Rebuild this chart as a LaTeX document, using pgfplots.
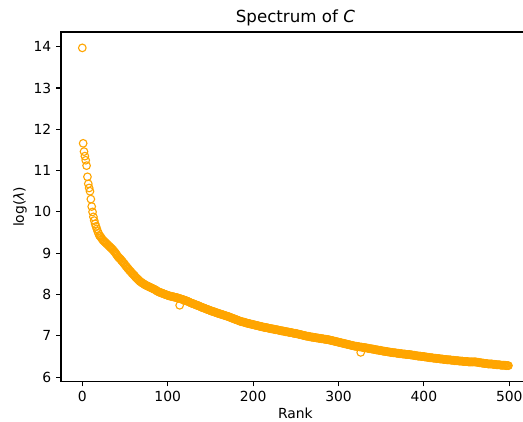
\documentclass[border=0pt]{standalone}
\usepackage{pgfplots}
\pgfplotsset{compat=1.18}
\usepackage{fontspec}
\setmainfont{DejaVu Sans}
\definecolor{mplorange}{RGB}{255,165,0}

\begin{document}
\begin{tikzpicture}
\begin{axis}[
  scale only axis,
  width=337.5pt, height=251.64pt,
  xmin=-24.95, xmax=523.95,
  ymin=5.8955, ymax=14.3545,
  xtick={0,100,200,300,400,500},
  ytick={6,7,8,9,10,11,12,13,14},
  tick pos=left, tick align=outside,
  major tick length=3.5pt,
  axis line style={line width=0.8pt},
  every tick/.style={black, line width=0.8pt},
  /pgf/number format/assume math mode=true,
  tick label style={font=\fontsize{10}{12}\selectfont},
  label style={font=\fontsize{10}{12}\selectfont},
  title style={font=\fontsize{12}{14}\selectfont, yshift=-5pt},
  xlabel style={yshift=2.5pt},
  ylabel style={yshift=-2pt},
  title={Spectrum of \textit{C}},
  xlabel={Rank},
  ylabel={log(\textit{λ})},
]
\addplot[only marks, mark=o, color=mplorange, mark size=2.75pt, mark options={line width=0.8pt}] coordinates {
(0,13.97)(1,11.66)(2,11.46)(3,11.35)(4,11.25)(5,11.12)(6,10.85)(7,10.68)(8,10.58)(9,10.50)
(10,10.31)(11,10.13)(12,10.00)(13,9.88)(14,9.79)(15,9.71)(16,9.65)(17,9.59)(18,9.53)(19,9.48)
(20,9.43)(21,9.41)(22,9.38)(23,9.35)(24,9.32)(25,9.30)(26,9.28)(27,9.26)(28,9.24)(29,9.22)
(30,9.20)(31,9.18)(32,9.16)(33,9.14)(34,9.12)(35,9.10)(36,9.08)(37,9.05)(38,9.03)(39,9.00)
(40,8.97)(41,8.94)(42,8.91)(43,8.89)(44,8.87)(45,8.85)(46,8.82)(47,8.80)(48,8.77)(49,8.75)
(50,8.72)(51,8.69)(52,8.67)(53,8.64)(54,8.62)(55,8.59)(56,8.57)(57,8.55)(58,8.52)(59,8.50)
(60,8.48)(61,8.46)(62,8.43)(63,8.41)(64,8.39)(65,8.37)(66,8.35)(67,8.33)(68,8.31)(69,8.30)
(70,8.28)(71,8.27)(72,8.26)(73,8.24)(74,8.23)(75,8.22)(76,8.21)(77,8.20)(78,8.19)(79,8.18)
(80,8.17)(81,8.16)(82,8.15)(83,8.14)(84,8.13)(85,8.12)(86,8.11)(87,8.09)(88,8.08)(89,8.07)
(90,8.06)(91,8.05)(92,8.04)(93,8.04)(94,8.03)(95,8.02)(96,8.01)(97,8.00)(98,8.00)(99,7.99)
(100,7.98)(101,7.97)(102,7.97)(103,7.96)(104,7.96)(105,7.95)(106,7.95)(107,7.94)(108,7.94)(109,7.93)
(110,7.93)(111,7.92)(112,7.92)(113,7.91)(114,7.74)(115,7.90)(116,7.89)(117,7.88)(118,7.88)(119,7.87)
(120,7.86)(121,7.85)(122,7.85)(123,7.84)(124,7.83)(125,7.82)(126,7.81)(127,7.80)(128,7.79)(129,7.78)
(130,7.78)(131,7.77)(132,7.76)(133,7.75)(134,7.74)(135,7.74)(136,7.73)(137,7.72)(138,7.71)(139,7.70)
(140,7.69)(141,7.68)(142,7.68)(143,7.67)(144,7.66)(145,7.65)(146,7.64)(147,7.64)(148,7.63)(149,7.62)
(150,7.61)(151,7.60)(152,7.60)(153,7.59)(154,7.58)(155,7.58)(156,7.57)(157,7.56)(158,7.55)(159,7.55)
(160,7.54)(161,7.53)(162,7.53)(163,7.52)(164,7.51)(165,7.51)(166,7.50)(167,7.49)(168,7.49)(169,7.48)
(170,7.47)(171,7.47)(172,7.46)(173,7.45)(174,7.44)(175,7.43)(176,7.43)(177,7.42)(178,7.41)(179,7.40)
(180,7.39)(181,7.39)(182,7.38)(183,7.37)(184,7.36)(185,7.35)(186,7.35)(187,7.34)(188,7.34)(189,7.33)
(190,7.33)(191,7.32)(192,7.31)(193,7.31)(194,7.30)(195,7.30)(196,7.29)(197,7.29)(198,7.28)(199,7.28)
(200,7.27)(201,7.27)(202,7.26)(203,7.26)(204,7.25)(205,7.25)(206,7.24)(207,7.24)(208,7.23)(209,7.23)
(210,7.22)(211,7.22)(212,7.21)(213,7.21)(214,7.20)(215,7.20)(216,7.20)(217,7.19)(218,7.19)(219,7.18)
(220,7.18)(221,7.17)(222,7.17)(223,7.17)(224,7.16)(225,7.16)(226,7.15)(227,7.15)(228,7.15)(229,7.14)
(230,7.14)(231,7.13)(232,7.13)(233,7.12)(234,7.12)(235,7.12)(236,7.11)(237,7.11)(238,7.10)(239,7.10)
(240,7.10)(241,7.09)(242,7.09)(243,7.08)(244,7.08)(245,7.08)(246,7.07)(247,7.07)(248,7.06)(249,7.06)
(250,7.06)(251,7.05)(252,7.05)(253,7.04)(254,7.04)(255,7.03)(256,7.03)(257,7.02)(258,7.02)(259,7.01)
(260,7.01)(261,7.00)(262,7.00)(263,6.99)(264,6.99)(265,6.99)(266,6.98)(267,6.98)(268,6.97)(269,6.97)
(270,6.97)(271,6.96)(272,6.96)(273,6.96)(274,6.95)(275,6.95)(276,6.95)(277,6.94)(278,6.94)(279,6.94)
(280,6.93)(281,6.93)(282,6.93)(283,6.92)(284,6.92)(285,6.92)(286,6.91)(287,6.91)(288,6.91)(289,6.90)
(290,6.90)(291,6.89)(292,6.89)(293,6.88)(294,6.88)(295,6.87)(296,6.87)(297,6.86)(298,6.86)(299,6.85)
(300,6.85)(301,6.84)(302,6.84)(303,6.83)(304,6.83)(305,6.82)(306,6.82)(307,6.81)(308,6.81)(309,6.80)
(310,6.80)(311,6.79)(312,6.79)(313,6.78)(314,6.78)(315,6.77)(316,6.77)(317,6.76)(318,6.76)(319,6.75)
(320,6.75)(321,6.75)(322,6.74)(323,6.74)(324,6.74)(325,6.73)(326,6.60)(327,6.73)(328,6.72)(329,6.72)
(330,6.72)(331,6.71)(332,6.71)(333,6.71)(334,6.70)(335,6.70)(336,6.69)(337,6.69)(338,6.69)(339,6.68)
(340,6.68)(341,6.68)(342,6.67)(343,6.67)(344,6.66)(345,6.66)(346,6.66)(347,6.65)(348,6.65)(349,6.65)
(350,6.64)(351,6.64)(352,6.63)(353,6.63)(354,6.63)(355,6.62)(356,6.62)(357,6.62)(358,6.61)(359,6.61)
(360,6.61)(361,6.60)(362,6.60)(363,6.60)(364,6.59)(365,6.59)(366,6.59)(367,6.59)(368,6.58)(369,6.58)
(370,6.58)(371,6.57)(372,6.57)(373,6.57)(374,6.57)(375,6.56)(376,6.56)(377,6.56)(378,6.56)(379,6.55)
(380,6.55)(381,6.55)(382,6.55)(383,6.55)(384,6.54)(385,6.54)(386,6.54)(387,6.53)(388,6.53)(389,6.53)
(390,6.52)(391,6.52)(392,6.52)(393,6.51)(394,6.51)(395,6.51)(396,6.51)(397,6.50)(398,6.50)(399,6.50)
(400,6.50)(401,6.49)(402,6.49)(403,6.49)(404,6.48)(405,6.48)(406,6.48)(407,6.47)(408,6.47)(409,6.47)
(410,6.47)(411,6.46)(412,6.46)(413,6.46)(414,6.46)(415,6.45)(416,6.45)(417,6.45)(418,6.45)(419,6.44)
(420,6.44)(421,6.44)(422,6.44)(423,6.43)(424,6.43)(425,6.43)(426,6.43)(427,6.42)(428,6.42)(429,6.42)
(430,6.42)(431,6.42)(432,6.41)(433,6.41)(434,6.41)(435,6.41)(436,6.40)(437,6.40)(438,6.40)(439,6.40)
(440,6.40)(441,6.39)(442,6.39)(443,6.39)(444,6.39)(445,6.39)(446,6.38)(447,6.38)(448,6.38)(449,6.38)
(450,6.38)(451,6.38)(452,6.37)(453,6.37)(454,6.37)(455,6.37)(456,6.37)(457,6.37)(458,6.37)(459,6.37)
(460,6.37)(461,6.37)(462,6.36)(463,6.36)(464,6.36)(465,6.35)(466,6.35)(467,6.35)(468,6.34)(469,6.34)
(470,6.34)(471,6.33)(472,6.33)(473,6.33)(474,6.33)(475,6.32)(476,6.32)(477,6.32)(478,6.32)(479,6.32)
(480,6.32)(481,6.31)(482,6.31)(483,6.31)(484,6.31)(485,6.30)(486,6.30)(487,6.30)(488,6.30)(489,6.30)
(490,6.29)(491,6.29)(492,6.29)(493,6.29)(494,6.29)(495,6.29)(496,6.28)(497,6.28)(498,6.28)(499,6.28)
};
\end{axis}
\pgfresetboundingbox
\path[use as bounding box] (-43.92pt,-28.44pt) rectangle (332.64pt,274.68pt);
\end{tikzpicture}
\end{document}
